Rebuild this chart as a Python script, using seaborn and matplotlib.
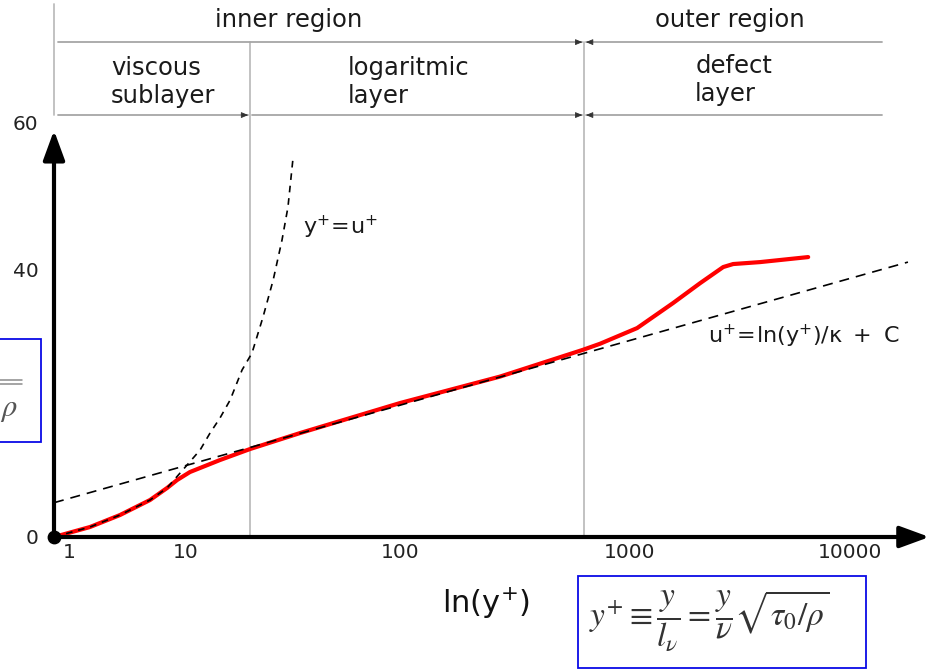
import matplotlib
matplotlib.use("Agg")
import matplotlib.pyplot as plt
import seaborn as sns
from matplotlib.patches import Rectangle
from matplotlib.lines import Line2D

# ---------------- data (schematic log-position units on x, u+ on y) ----------------
x_ticks = [0.47, 1.0, 1.97, 3.01, 4.01]
x_tick_labels = ["1", "10", "100", "1000", "10000"]
y_ticks = [0, 40, 61.9]
y_tick_labels = ["0", "40", "60"]

profile_x = [0.402, 0.565, 0.701, 0.837, 0.914, 0.960, 1.018, 1.154, 1.290, 1.517,
             1.970, 2.423, 2.799, 2.876, 3.044, 3.207, 3.330, 3.434, 3.479, 3.601, 3.819]
profile_u = [0.0, 1.49, 3.28, 5.52, 7.31, 8.51, 9.70, 11.49, 13.13, 15.52,
             20.0, 23.95, 27.95, 28.85, 31.19, 34.93, 37.91, 40.30, 40.75, 41.04, 41.79]

viscous_x = [0.402, 0.565, 0.701, 0.837, 0.914, 1.005, 1.064, 1.109, 1.154, 1.200,
             1.254, 1.299, 1.349, 1.395, 1.435, 1.462, 1.485]
viscous_u = [0.0, 1.49, 3.28, 5.52, 7.31, 10.75, 12.99, 15.52, 17.76, 20.45,
             24.93, 27.46, 32.84, 38.36, 44.33, 49.25, 56.57]

loglaw_x = [0.402, 4.271]
loglaw_u = [5.12, 41.04]

region_bounds = [1.290, 2.804]
header_labels = ["inner region", "outer region"]
layer_labels = ["viscous\nsublayer", "logaritmic\nlayer", "defect\nlayer"]

# ---------------- figure ----------------
sns.set_theme(style="white")
plt.rcParams['font.family'] = ['DejaVu Sans']

W, H = 932, 670
def fx(px):
    return px / W
def fy(py):
    return 1 - py / H

fig = plt.figure(figsize=(W / 100, H / 100), dpi=100)
ax = fig.add_axes([54 / W, 133 / H, 878 / W, 422 / H])

XMIN, XMAX = 0.402, 4.380
YMIN, YMAX = 0.0, 63.0

# curves
sns.lineplot(x=profile_x, y=profile_u, ax=ax, color="#ff0000", linewidth=3.0,
             estimator=None, sort=False, clip_on=False, zorder=3)
sns.lineplot(x=loglaw_x, y=loglaw_u, ax=ax, color="black", linewidth=1.2,
             linestyle=(0, (6, 4.2)), estimator=None, sort=False, clip_on=False, zorder=4)
sns.lineplot(x=viscous_x, y=viscous_u, ax=ax, color="black", linewidth=1.2,
             linestyle=(0, (4, 3.5)), estimator=None, sort=False, clip_on=False, zorder=4)

# region separators
line_grey = "#bdbdbd"
for xb in region_bounds:
    ax.plot([xb, xb], [0, 73.9], color=line_grey, lw=1.3, clip_on=False, zorder=1)
ax.plot([XMIN, XMIN], [63.0, 79.5], color=line_grey, lw=1.3, clip_on=False, zorder=1)

# header lines with small dark arrowheads
def seg(x_from, x_to, u):
    ax.plot([x_from, x_to], [u, u], color="#a6a6a6", lw=1.3, clip_on=False, zorder=1)
    d = 0.02 if x_to > x_from else -0.02
    ax.annotate("", xy=(x_to, u), xytext=(x_to - d, u), xycoords="data",
                arrowprops=dict(arrowstyle="-|>,head_length=0.6,head_width=0.25",
                                color="#333333", lw=0.6, shrinkA=0, shrinkB=0,
                                mutation_scale=7),
                annotation_clip=False)

U_TOP, U_MID = 73.88, 62.99
seg(0.420, region_bounds[1] - 0.008, U_TOP)
seg(4.154, region_bounds[1] + 0.008, U_TOP)
seg(0.420, region_bounds[0] - 0.008, U_MID)
seg(region_bounds[0] + 0.008, region_bounds[1] - 0.008, U_MID)
seg(4.154, region_bounds[1] + 0.008, U_MID)

txt_color = "#1a1a1a"
ax.text(1.467, 77.16, header_labels[0], ha="center", va="center", fontsize=17.5,
        color=txt_color, clip_on=False)
ax.text(3.465, 77.16, header_labels[1], ha="center", va="center", fontsize=17.5,
        color=txt_color, clip_on=False)
ax.text(0.660, 67.9, layer_labels[0], ha="left", va="center", fontsize=17.5,
        color=txt_color, linespacing=1.2, clip_on=False)
ax.text(1.734, 67.9, layer_labels[1], ha="left", va="center", fontsize=17.5,
        color=txt_color, linespacing=1.2, clip_on=False)
ax.text(3.307, 68.2, layer_labels[2], ha="left", va="center", fontsize=17.5,
        color=txt_color, linespacing=1.2, clip_on=False)

# curve annotations
ax.text(1.530, 46.3, r"$\mathregular{y^{+}\!=\!u^{+}}$", ha="left", va="center",
        fontsize=16, color=txt_color)
ax.text(3.365, 30.0, r"$\mathregular{u^{+}\!=\!ln(y^{+})/\kappa\ +\ C}$", ha="left",
        va="center", fontsize=16, color=txt_color, clip_on=False)

# axes arrows
arrow_kw = dict(arrowstyle="-|>,head_length=0.9,head_width=0.33", color="black",
                lw=3, shrinkA=0, shrinkB=0, mutation_scale=20)
ax.annotate("", xy=(XMAX - 0.012, 0), xytext=(XMIN, 0), arrowprops=arrow_kw,
            annotation_clip=False, zorder=5)
ax.annotate("", xy=(XMIN, 60.7), xytext=(XMIN, 0), arrowprops=arrow_kw,
            annotation_clip=False, zorder=5)
ax.scatter([profile_x[0]], [profile_u[0]], s=80, color="black", clip_on=False, zorder=6)

ax.set_xlim(XMIN, XMAX)
ax.set_ylim(YMIN, YMAX)
for s in ax.spines.values():
    s.set_visible(False)
ax.grid(False)
ax.set_xticks(x_ticks, x_tick_labels)
ax.set_yticks(y_ticks, y_tick_labels)
ax.tick_params(axis="x", length=0, pad=4, labelsize=14.5, labelcolor="#222222")
ax.tick_params(axis="y", length=0, pad=11, labelsize=14.5, labelcolor="#222222")

ax.set_ylabel("")
ax.set_xlabel(r"$\mathregular{ln(y^{+})}$", fontsize=22, color="#111111")
ax.xaxis.set_label_coords((486 - 54) / 878, -(603 - 537) / 422)
ax.xaxis.label.set_va("center")

# formula boxes
blue = "#0a0ae6"
fig.add_artist(Rectangle((fx(578), fy(668)), 288 / W, 92 / H, transform=fig.transFigure,
                         fill=False, edgecolor=blue, lw=1.3))
fig.text(fx(709), fy(621),
         r"$y^{+}\equiv\dfrac{y}{l_{\nu}}=\dfrac{y}{\nu}\sqrt{\tau_{0}/\rho}$",
         ha="center", va="center", fontsize=24, math_fontfamily="stix", color="#333333")

fig.add_artist(Rectangle((fx(-5), fy(442)), 45.5 / W, 103 / H, transform=fig.transFigure,
                         fill=False, edgecolor=blue, lw=1.3))
for py in (379.5, 383.5):
    fig.add_artist(Line2D([fx(0), fx(22)], [fy(py), fy(py)], transform=fig.transFigure,
                          color="#8c8c8c", lw=1.1))
fig.text(fx(9), fy(409), r"$\rho$", ha="center", va="center", fontsize=22,
         math_fontfamily="stix", color="#555555")

fig.savefig("out.png", dpi=100)
